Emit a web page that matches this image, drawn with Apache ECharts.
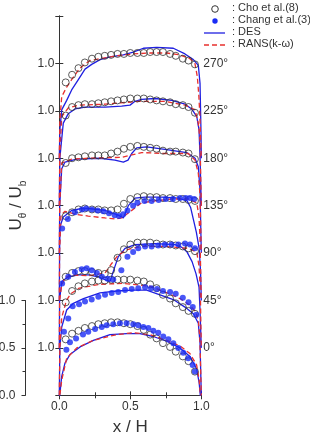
<!DOCTYPE html>
<html>
<head>
<meta charset="utf-8">
<script src="https://cdn.jsdelivr.net/npm/echarts@6/dist/echarts.min.js"></script>
<style>
  html, body { margin: 0; padding: 0; background: #fff; }
  #main { width: 310px; height: 437px; }
</style>
</head>
<body>
<div id="main"></div>
<script>
// angle of each profile, bottom to top
const angles = ['0°', '45°', '90°', '135°', '180°', '225°', '270°'];

// Cho et al.(8) - same x stations for every angle
const choX = [0.045, 0.09, 0.135, 0.18, 0.23, 0.275, 0.32, 0.365, 0.41, 0.455, 0.5, 0.55, 0.595, 0.64, 0.685, 0.73, 0.78, 0.82, 0.87, 0.91, 0.955];
const cho0   = [1.09, 1.15, 1.18, 1.21, 1.23, 1.25, 1.26, 1.27, 1.27, 1.26, 1.25, 1.23, 1.19, 1.14, 1.10, 1.05, 1.01, 0.96, 0.91, 0.86, 0.75];
const cho45  = [0.98, 1.10, 1.15, 1.18, 1.20, 1.21, 1.21, 1.22, 1.22, 1.22, 1.22, 1.21, 1.20, 1.17, 1.13, 1.06, 1.02, 0.97, 0.93, 0.89, 0.86];
const cho90  = [0.75, 0.79, 0.81, 0.81, 0.80, 0.79, 0.78, 0.82, 0.95, 1.04, 1.09, 1.11, 1.11, 1.11, 1.10, 1.09, 1.09, 1.08, 1.07, 1.05, 1.02];
const cho135 = [0.89, 0.93, 0.96, 0.97, 0.96, 0.96, 0.95, 0.95, 0.96, 1.02, 1.07, 1.09, 1.10, 1.09, 1.09, 1.08, 1.08, 1.07, 1.07, 1.06, 1.05];
const cho180 = [0.95, 1.00, 1.01, 1.02, 1.03, 1.03, 1.03, 1.05, 1.07, 1.10, 1.12, 1.13, 1.12, 1.11, 1.10, 1.08, 1.07, 1.07, 1.06, 1.05, 0.99];
const cho225 = [0.95, 1.04, 1.06, 1.07, 1.07, 1.08, 1.09, 1.10, 1.11, 1.12, 1.13, 1.13, 1.13, 1.12, 1.11, 1.10, 1.09, 1.07, 1.06, 1.04, 0.98];
const cho270 = [0.80, 0.88, 0.95, 1.01, 1.05, 1.07, 1.08, 1.09, 1.10, 1.10, 1.11, 1.11, 1.11, 1.12, 1.12, 1.12, 1.10, 1.08, 1.05, 1.03, 0.99];

// Chang et al.(3) - [x/H, U/Ub], only 0..135 deg
const chang0 = [[0.05,0.98],[0.075,1.06],[0.118,1.10],[0.167,1.14],[0.204,1.17],[0.252,1.20],[0.299,1.22],[0.334,1.24],[0.38,1.25],[0.427,1.26],[0.474,1.26],[0.521,1.25],[0.556,1.24],[0.592,1.22],[0.627,1.21],[0.662,1.18],[0.697,1.16],[0.732,1.12],[0.768,1.09],[0.803,1.05],[0.838,1.00],[0.873,0.95],[0.908,0.89],[0.939,0.82],[0.955,0.75]];
const chang45 = [[0.033,0.67],[0.063,0.81],[0.094,0.94],[0.139,0.96],[0.181,0.99],[0.228,1.01],[0.275,1.04],[0.322,1.06],[0.369,1.08],[0.415,1.09],[0.463,1.11],[0.51,1.12],[0.556,1.13],[0.604,1.14],[0.646,1.13],[0.688,1.12],[0.73,1.10],[0.78,1.09],[0.82,1.07],[0.87,1.03],[0.91,0.98],[0.94,0.93],[0.965,0.85]];
const chang90 = [[0.02,0.68],[0.063,0.75],[0.11,0.80],[0.158,0.83],[0.193,0.84],[0.228,0.82],[0.264,0.79],[0.3,0.75],[0.34,0.73],[0.38,0.72],[0.437,0.82],[0.48,0.96],[0.52,1.01],[0.556,1.05],[0.604,1.07],[0.65,1.07],[0.697,1.08],[0.744,1.09],[0.79,1.09],[0.838,1.09],[0.885,1.10],[0.92,1.09],[0.955,1.05]];
const chang135 = [[0.02,0.76],[0.06,0.86],[0.11,0.93],[0.16,0.96],[0.19,0.97],[0.23,0.96],[0.27,0.95],[0.31,0.94],[0.35,0.92],[0.39,0.90],[0.42,0.89],[0.45,0.91],[0.48,0.95],[0.52,1.00],[0.55,1.03],[0.6,1.05],[0.65,1.05],[0.7,1.06],[0.75,1.07],[0.8,1.07],[0.85,1.08],[0.89,1.08],[0.92,1.08],[0.95,1.07]];

// DES - [x/H, U/Ub]
const des0 = [[0,0],[0.003,0.5],[0.017,0.70],[0.04,0.84],[0.075,0.93],[0.146,1.01],[0.24,1.08],[0.357,1.14],[0.475,1.15],[0.568,1.15],[0.662,1.12],[0.756,1.07],[0.85,1.00],[0.92,0.91],[0.967,0.78],[0.985,0.63],[0.993,0.5],[1,0]];
const des45 = [[0,0],[0.004,0.5],[0.017,0.72],[0.052,0.90],[0.099,0.97],[0.17,1.02],[0.287,1.08],[0.404,1.10],[0.521,1.11],[0.615,1.11],[0.709,1.06],[0.803,1.01],[0.885,0.93],[0.944,0.86],[0.979,0.76],[0.991,0.55],[1,0]];
const des90 = [[0,0],[0.002,0.5],[0.017,0.70],[0.063,0.75],[0.134,0.77],[0.204,0.77],[0.275,0.75],[0.322,0.72],[0.357,0.70],[0.392,0.86],[0.415,0.96],[0.463,1.05],[0.533,1.09],[0.674,1.10],[0.815,1.09],[0.864,1.06],[0.9,1.01],[0.935,0.91],[0.963,0.78],[0.984,0.64],[0.991,0.40],[1,0]];
const des135 = [[0,0],[0.002,0.5],[0.005,0.78],[0.028,0.88],[0.087,0.95],[0.158,0.97],[0.204,0.97],[0.322,0.95],[0.415,0.90],[0.451,0.87],[0.486,1.00],[0.533,1.08],[0.604,1.09],[0.721,1.09],[0.838,1.08],[0.9,1.05],[0.925,0.98],[0.945,0.85],[0.965,0.72],[0.985,0.55],[0.995,0.3],[1,0]];
const des180 = [[0,0],[0.003,0.5],[0.017,0.89],[0.04,0.96],[0.123,0.99],[0.287,1.00],[0.392,0.98],[0.451,0.96],[0.484,0.98],[0.51,1.05],[0.545,1.11],[0.615,1.12],[0.756,1.09],[0.897,1.06],[0.956,1.00],[0.979,0.91],[0.991,0.66],[1,0]];
const des225 = [[0,0],[0.002,0.3],[0.005,0.52],[0.028,0.87],[0.063,0.97],[0.111,1.02],[0.181,1.04],[0.322,1.04],[0.439,1.05],[0.498,1.06],[0.533,1.10],[0.58,1.12],[0.674,1.13],[0.792,1.11],[0.886,1.07],[0.932,1.02],[0.968,0.94],[0.984,0.80],[0.991,0.52],[1,0]];
const des270 = [[0,0],[0.004,0.3],[0.017,0.51],[0.052,0.61],[0.087,0.72],[0.134,0.83],[0.181,0.94],[0.228,0.99],[0.287,1.04],[0.357,1.07],[0.451,1.09],[0.521,1.12],[0.592,1.16],[0.686,1.17],[0.803,1.16],[0.885,1.10],[0.944,1.04],[0.979,0.98],[0.991,0.79],[0.998,0.27],[1,0]];

// RANS(k-w) - [x/H, U/Ub]
const rans0 = [[0,0],[0.004,0.5],[0.017,0.66],[0.052,0.89],[0.123,1.00],[0.24,1.08],[0.404,1.14],[0.521,1.16],[0.639,1.14],[0.756,1.08],[0.85,1.02],[0.92,0.94],[0.967,0.82],[0.985,0.66],[0.994,0.5],[1,0]];
const rans45 = [[0,0],[0.004,0.5],[0.017,0.82],[0.05,1.0],[0.08,1.07],[0.14,1.13],[0.28,1.17],[0.45,1.18],[0.64,1.15],[0.76,1.08],[0.85,1.02],[0.92,0.95],[0.96,0.88],[0.98,0.78],[0.99,0.6],[1,0]];
const rans90 = [[0,0],[0.002,0.5],[0.017,0.66],[0.04,0.74],[0.087,0.77],[0.204,0.76],[0.322,0.79],[0.369,0.89],[0.415,0.98],[0.486,1.04],[0.58,1.07],[0.744,1.07],[0.908,1.05],[0.968,1.01],[0.984,0.86],[0.993,0.61],[1,0]];
const rans135 = [[0,0],[0.002,0.5],[0.012,0.90],[0.04,0.94],[0.111,0.91],[0.204,0.89],[0.322,0.87],[0.392,0.86],[0.439,0.87],[0.51,0.95],[0.58,1.03],[0.674,1.05],[0.792,1.07],[0.908,1.07],[0.968,1.03],[0.984,0.88],[0.991,0.64],[1,0]];
const rans180 = [[0,0],[0.003,0.5],[0.017,0.95],[0.087,0.99],[0.204,1.00],[0.439,1.01],[0.58,1.06],[0.744,1.05],[0.908,1.05],[0.956,0.98],[0.979,0.84],[0.991,0.61],[1,0]];
const rans225 = [[0,0],[0.003,0.5],[0.017,0.94],[0.063,1.03],[0.134,1.06],[0.322,1.07],[0.556,1.10],[0.744,1.10],[0.886,1.06],[0.956,1.01],[0.979,0.87],[0.991,0.69],[1,0]];
const rans270 = [[0,0],[0.004,0.4],[0.017,0.65],[0.052,0.75],[0.087,0.83],[0.145,0.95],[0.215,1.03],[0.287,1.05],[0.405,1.08],[0.521,1.10],[0.639,1.11],[0.756,1.11],[0.85,1.09],[0.92,1.05],[0.955,1.00],[0.972,0.86],[0.983,0.65],[0.99,0.44],[1,0]];

// each profile is shifted up by half a unit
const profileStep = 0.5;

const choAll = [cho0, cho45, cho90, cho135, cho180, cho225, cho270];
const changAll = [chang0, chang45, chang90, chang135, null, null, null];
const desAll = [des0, des45, des90, des135, des180, des225, des270];
const ransAll = [rans0, rans45, rans90, rans135, rans180, rans225, rans270];

const BLUE = '#1f1fe0';
const DOT = '#1a2cf5';
const RED = '#e8302e';
const TXT = '#333';
const FONT = '"Liberation Sans", Arial, sans-serif';

function shift(pts, k) {
  const off = profileStep * k - 0.5;
  return pts.map(p => [p[0], +(p[1] + off).toFixed(3)]);
}

let series = [];
for (let k = 0; k < angles.length; k++) {
  series.push({
    type: 'line', name: 'DES', data: shift(desAll[k], k),
    showSymbol: false, symbol: 'none', z: 2,
    lineStyle: { color: BLUE, width: 1.3 }
  });
  series.push({
    type: 'line', name: 'RANS(k-ω)', data: shift(ransAll[k], k),
    showSymbol: false, symbol: 'none', z: 2,
    lineStyle: { color: RED, width: 1.3, type: [5, 3] }
  });
  series.push({
    type: 'scatter', name: 'Cho et al.(8)',
    data: shift(choX.map((x, i) => [x, choAll[k][i]]), k),
    symbol: 'circle', symbolSize: 7, z: 3,
    itemStyle: { color: 'rgba(0,0,0,0)', borderColor: '#333', borderWidth: 1 }
  });
  if (changAll[k]) {
    series.push({
      type: 'scatter', name: 'Chang et al.(3)', data: shift(changAll[k], k),
      symbol: 'circle', symbolSize: 6, z: 4,
      itemStyle: { color: DOT }
    });
  }
}

const axisLine = { show: true, lineStyle: { color: '#333', width: 1 } };

const option = {
  animation: false,
  textStyle: { fontFamily: FONT },
  grid: [
    { left: 59.3, top: 16, width: 142, height: 379.3, outerBoundsMode: 'none', containLabel: false },
    { left: 25.5, top: 300.5, width: 1, height: 94.8, outerBoundsMode: 'none', containLabel: false }
  ],
  xAxis: [
    {
      type: 'value', gridIndex: 0, position: 'bottom', min: 0, max: 1, interval: 0.5,
      axisLine: axisLine,
      axisTick: { inside: true, length: 4, lineStyle: { color: '#333' } },
      minorTick: { show: true, splitNumber: 2, length: 3, lineStyle: { color: '#333' } },
      splitLine: { show: false },
      axisLabel: { formatter: v => v.toFixed(1), fontSize: 12, color: TXT, margin: 5, fontFamily: FONT },
      name: 'x / H', nameLocation: 'middle', nameGap: 24,
      nameTextStyle: { fontSize: 17, color: TXT, fontFamily: FONT }
    },
    {
      type: 'value', gridIndex: 0, position: 'top', min: 0, max: 1, interval: 0.5,
      axisLine: axisLine,
      axisTick: { inside: true, length: 4, lineStyle: { color: '#333' } },
      minorTick: { show: true, splitNumber: 2, length: 3, lineStyle: { color: '#333' } },
      splitLine: { show: false },
      axisLabel: { show: false }
    },
    { type: 'value', gridIndex: 1, show: false, min: 0, max: 1 }
  ],
  yAxis: [
    {
      type: 'value', gridIndex: 0, position: 'left', min: 0, max: 4, interval: 0.5,
      axisLine: axisLine,
      axisTick: { inside: true, length: 4, lineStyle: { color: '#333' } },
      splitLine: { show: false },
      axisLabel: {
        fontSize: 12, color: TXT, margin: 5, fontFamily: FONT,
        formatter: v => (v > 0.25 && v < 3.75) ? '1.0' : ''
      },
      name: '{u|U}{s|θ}{u| / U}{s|b}', nameLocation: 'middle', nameGap: 34, nameRotate: 90,
      nameTextStyle: {
        color: TXT,
        rich: {
          u: { fontSize: 17, color: TXT, fontFamily: FONT, lineHeight: 20, verticalAlign: 'bottom' },
          s: { fontSize: 10, color: TXT, fontFamily: FONT, lineHeight: 20, verticalAlign: 'bottom', padding: [0, 0, -3, 0] }
        }
      }
    },
    {
      type: 'value', gridIndex: 0, position: 'right', min: 0, max: 4, interval: 0.5,
      axisLine: axisLine,
      axisTick: { inside: true, length: 4, lineStyle: { color: '#333' } },
      splitLine: { show: false },
      axisLabel: {
        fontSize: 12, color: TXT, margin: 2, fontFamily: FONT,
        formatter: v => {
          const i = Math.round(v / profileStep) - 1;
          return (i >= 0 && i < angles.length) ? angles[i] : '';
        }
      }
    },
    {
      type: 'value', gridIndex: 1, position: 'left', min: 0, max: 1, interval: 0.5,
      axisLine: axisLine,
      axisTick: { inside: false, length: 4, lineStyle: { color: '#333' } },
      minorTick: { show: true, splitNumber: 2, length: 3, lineStyle: { color: '#333' } },
      splitLine: { show: false },
      axisLabel: { fontSize: 12, color: TXT, margin: 10, fontFamily: FONT, formatter: v => v.toFixed(1) }
    }
  ],
  series: series.map(s => Object.assign(s, { xAxisIndex: 0, yAxisIndex: 0 })),
  graphic: [
    { type: 'circle', shape: { cx: 215, cy: 9, r: 3.3 }, style: { fill: 'none', stroke: '#333', lineWidth: 1 } },
    { type: 'circle', shape: { cx: 215, cy: 21, r: 2.7 }, style: { fill: DOT } },
    { type: 'line', shape: { x1: 204, y1: 33, x2: 225, y2: 33 }, style: { stroke: BLUE, lineWidth: 1.3 } },
    { type: 'line', shape: { x1: 204, y1: 45, x2: 227, y2: 45 }, style: { stroke: RED, lineWidth: 1.3, lineDash: [5, 3] } },
    { type: 'text', left: 232, top: 2, style: { text: ': Cho et al.(8)', fontSize: 11, fill: TXT, fontFamily: FONT } },
    { type: 'text', left: 232, top: 14, style: { text: ': Chang et al.(3)', fontSize: 11, fill: TXT, fontFamily: FONT } },
    { type: 'text', left: 232, top: 26, style: { text: ': DES', fontSize: 11, fill: TXT, fontFamily: FONT } },
    { type: 'text', left: 232, top: 38, style: { text: ': RANS(k-ω)', fontSize: 11, fill: TXT, fontFamily: FONT } }
  ]
};

let myChart = echarts.init(document.getElementById('main'));
myChart.setOption(option);
</script>
</body>
</html>
